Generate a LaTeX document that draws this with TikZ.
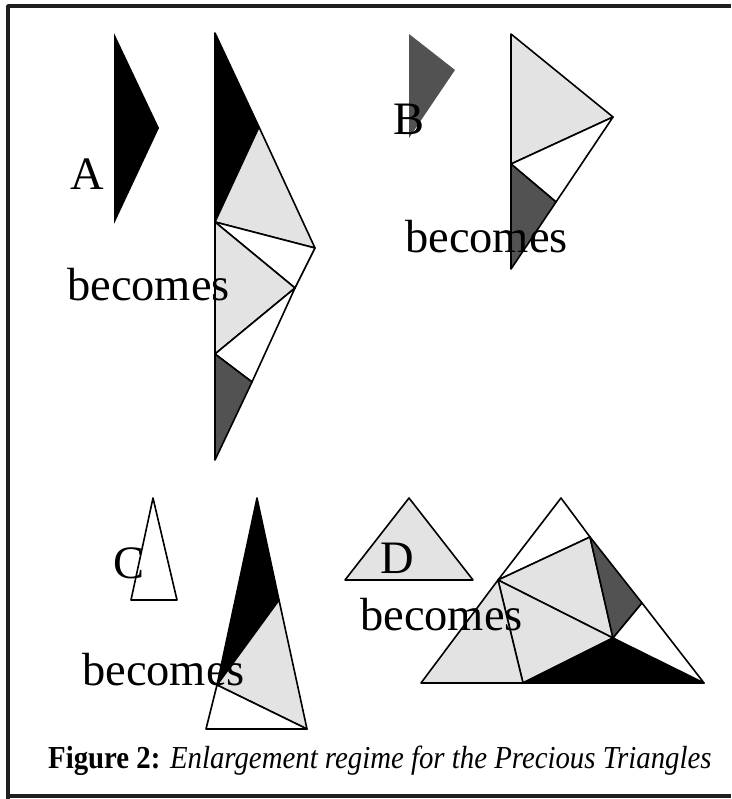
\documentclass[tikz,border=0pt]{standalone}
\usepackage{fontspec}
\setmainfont{Liberation Serif}
\begin{document}
\begin{tikzpicture}[x=1pt,y=-1pt,line join=round,
  piece/.style={draw=black,line width=1.6pt},
  lg/.style={piece,fill=black!11},
  dg/.style={piece,fill=black!68},
  bk/.style={piece,fill=black},
  wh/.style={piece,fill=white},
  frame/.style={line width=3.4pt,black!88},
  lbl/.style={anchor=base west,inner sep=0pt,font=\fontsize{46.5}{50}\selectfont}]
\useasboundingbox (0,0) rectangle (731,799);
\fill[white] (0,0) rectangle (731,799);
% frame
\draw[frame] (731,6) -- (8,6) -- (8,799);
\draw[frame] (8,796) -- (731,796);

% ---------- A ----------
\fill[black] (114,33) -- (159,128) -- (114,224) -- cycle;
\coordinate (a1) at (215,33);
\coordinate (a2) at (259,127);
\coordinate (a3) at (215,222);
\coordinate (a4) at (315,248);
\coordinate (a5) at (295,288);
\coordinate (a6) at (215,354);
\coordinate (a7) at (252,382);
\coordinate (a8) at (215,460);
\draw[bk] (a1) -- (a2) -- (a3) -- cycle;
\draw[lg] (a2) -- (a4) -- (a3) -- cycle;
\draw[wh] (a3) -- (a4) -- (a5) -- cycle;
\draw[lg] (a3) -- (a5) -- (a6) -- cycle;
\draw[wh] (a6) -- (a5) -- (a7) -- cycle;
\draw[dg] (a6) -- (a7) -- (a8) -- cycle;

% ---------- B ----------
\fill[black!68] (409,34) -- (455,70) -- (409,138) -- cycle;
\coordinate (b1) at (511,34);
\coordinate (b2) at (613,117);
\coordinate (b3) at (511,164);
\coordinate (b4) at (556,202);
\coordinate (b5) at (511,269);
\draw[lg] (b1) -- (b2) -- (b3) -- cycle;
\draw[wh] (b3) -- (b2) -- (b4) -- cycle;
\draw[dg] (b3) -- (b4) -- (b5) -- cycle;

% ---------- C ----------
\draw[wh] (153,498) -- (177,600) -- (131,600) -- cycle;
\coordinate (c1) at (257,498);
\coordinate (c2) at (279,600);
\coordinate (c3) at (217,685);
\coordinate (c4) at (307,729);
\coordinate (c5) at (206,729);
\draw[bk] (c1) -- (c2) -- (c3) -- cycle;
\draw[lg] (c2) -- (c4) -- (c3) -- cycle;
\draw[wh] (c3) -- (c4) -- (c5) -- cycle;

% ---------- D ----------
\draw[lg] (409,498) -- (473,580) -- (345,580) -- cycle;
\coordinate (d1) at (561,498);
\coordinate (d2) at (590,537);
\coordinate (d3) at (498,580);
\coordinate (d4) at (642,603);
\coordinate (d5) at (613,638);
\coordinate (d6) at (523,683);
\coordinate (d7) at (421,683);
\coordinate (d8) at (704,683);
\draw[wh] (d1) -- (d2) -- (d3) -- cycle;
\draw[lg] (d3) -- (d2) -- (d5) -- cycle;
\draw[dg] (d2) -- (d4) -- (d5) -- cycle;
\draw[lg] (d3) -- (d5) -- (d6) -- cycle;
\draw[lg] (d3) -- (d6) -- (d7) -- cycle;
\draw[bk] (d6) -- (d5) -- (d8) -- cycle;
\draw[wh] (d5) -- (d4) -- (d8) -- cycle;

% ---------- labels ----------
\node[lbl] (la) at (70,190) {A};
\node[lbl] (ba) at (67,300) {becomes};
\node[lbl] (lb) at (393,135) {B};
\node[lbl] (bb) at (405,252) {becomes};
\node[lbl] (lc) at (113,578) {C};
\node[lbl] (bc) at (82,685) {becomes};
\node[lbl] (ld) at (380,573) {D};
\node[lbl] (bd) at (360,630) {becomes};

\node[anchor=base west,inner sep=0pt] (cap) at (48,768)
  {\scalebox{0.9}[1]{\fontsize{32}{34}\selectfont\textbf{Figure 2:} \textit{Enlargement regime for the Precious Triangles}}};
\end{tikzpicture}
\end{document}
